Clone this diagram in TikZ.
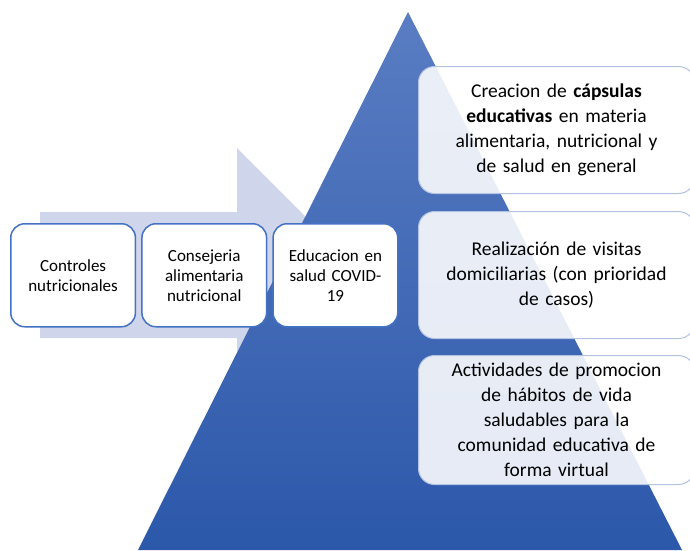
\documentclass[tikz,border=0pt]{standalone}
\usepackage{fontspec}
\setmainfont{Carlito}
\usetikzlibrary{positioning}

\definecolor{pyrtop}{HTML}{5A7DC3}
\definecolor{pyrbot}{HTML}{2C58AA}
\definecolor{arrowfill}{HTML}{CFD5EA}
\definecolor{boxline}{HTML}{4472C4}
\definecolor{softline}{HTML}{B4C2E3}

\begin{document}
\begin{tikzpicture}[x=1pt, y=-1pt,
    leftbox/.style={draw=boxline, line width=1.5pt, fill=white, rounded corners=14pt,
        minimum width=124pt, minimum height=103pt, text width=118pt, align=center,
        font=\fontsize{17}{20}\selectfont, anchor=north west},
    rightbox/.style={draw=softline, line width=1pt, fill=white, fill opacity=0.88,
        text opacity=1, rounded corners=16pt, minimum width=276pt, minimum height=127pt,
        text width=262pt, align=center, font=\fontsize{19.5}{25}\selectfont, anchor=north west}]
    \useasboundingbox (0,0) rectangle (690,550);
    \clip (0,0) rectangle (690,550);

    % big arrow behind the pyramid
    \fill[arrowfill] (40,212) -- (237,212) -- (237,148) -- (364,275)
        -- (237,402) -- (237,338) -- (40,338) -- cycle;

    % pyramid
    \shade[top color=pyrtop, bottom color=pyrbot] (408,12) -- (682,550) -- (138,550) -- cycle;

    % left steps
    \node[leftbox] (controles) at (10,223) {Controles\\nutricionales};
    \node[leftbox, right=5pt of controles] (consejeria) {Consejeria\\alimentaria\\nutricional};
    \node[leftbox, right=5pt of consejeria, minimum width=122pt] (educacion) {Educacion en\\salud COVID-\\19};

    % right side boxes
    \node[rightbox] (capsulas) at (418,66)
        {Creacion de \textbf{cápsulas}\\\textbf{educativas} en materia\\alimentaria, nutricional y\\de salud en general};
    \node[rightbox, below=17pt of capsulas] (visitas)
        {Realización de visitas\\domiciliarias (con prioridad\\de casos)};
    \node[rightbox, below=16pt of visitas, minimum height=129pt] (actividades)
        {Actividades de promocion\\de hábitos de vida\\saludables para la\\comunidad educativa de\\forma virtual};

\end{tikzpicture}
\end{document}
